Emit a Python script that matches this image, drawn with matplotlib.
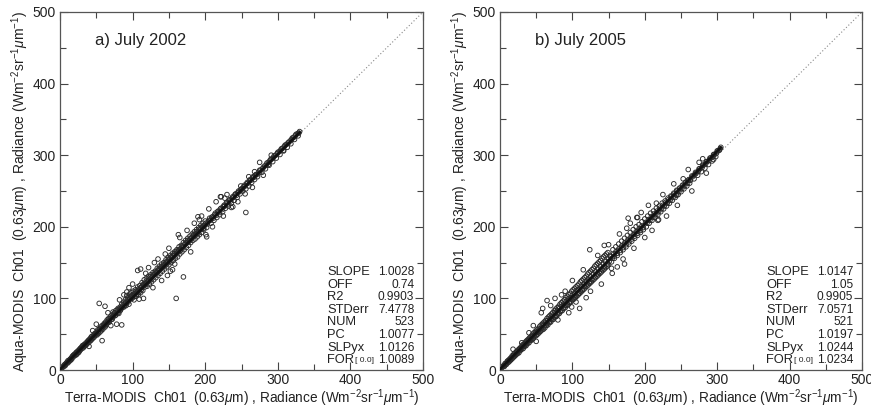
import matplotlib.pyplot as plt
from matplotlib.ticker import MultipleLocator

plt.rcParams['font.family'] = ['Liberation Sans', 'DejaVu Sans']
plt.rcParams['mathtext.fontset'] = 'custom'
plt.rcParams['mathtext.rm'] = 'Liberation Sans'
plt.rcParams['mathtext.it'] = 'Liberation Sans:italic'

# ---- panel a) July 2002 : points (Terra x, Aqua y) ----
terra_a = [3, 5, 6, 8, 9, 10, 12, 13, 14, 15, 16, 17, 18, 19, 20, 21, 22, 23, 24, 25, 26, 27, 28, 29, 30,
           31, 32, 33, 34, 35, 36, 37, 38, 39, 40, 41, 42, 43, 44, 45, 46, 47, 48, 49, 50, 51, 52, 53, 54, 55,
           56, 57, 58, 59, 60, 61, 62, 63, 64, 65, 66, 67, 68, 70, 71, 72, 73, 75, 76, 77, 79, 80, 81, 83, 84,
           85, 86, 88, 89, 90, 91, 92, 93, 94, 95, 96, 97, 98, 99, 100, 101, 102, 103, 104, 105, 106, 107, 108,
           109, 110, 111, 112, 113, 114, 115, 116, 117, 118, 119, 120, 121, 122, 123, 124, 125, 126, 127, 128,
           129, 130, 131, 132, 133, 134, 135, 136, 137, 138, 139, 140, 141, 142, 143, 144, 145, 146, 147, 148,
           149, 150, 151, 152, 153, 154, 155, 156, 157, 158, 159, 160, 161, 162, 163, 164, 165, 166, 167, 168,
           169, 170, 171, 172, 173, 174, 175, 176, 177, 178, 179, 180, 181, 182, 183, 184, 185, 186, 187, 188,
           189, 190, 191, 192, 193, 194, 195, 196, 197, 198, 199, 200, 202, 204, 206, 208, 210, 212, 214, 216,
           218, 220, 222, 224, 226, 228, 230, 232, 234, 236, 238, 240, 242, 244, 246, 248, 250, 252, 254, 256,
           258, 260, 262, 264, 266, 268, 270, 272, 275, 278, 280, 283, 285, 288, 290, 293, 295, 298, 300, 303,
           305, 308, 310, 313, 315, 318, 320, 323, 325, 328, 330]
aqua_a = [4, 5, 7, 8, 10, 11, 12, 14, 13, 16, 17, 19, 18, 21, 20, 22, 24, 22, 25, 27, 25, 29, 28, 31, 30,
          34, 31, 33, 36, 35, 38, 36, 40, 41, 39, 43, 44, 42, 47, 45, 48, 46, 51, 50, 52, 49, 56, 54, 57, 53,
          60, 58, 62, 57, 63, 65, 60, 67, 64, 70, 66, 72, 69, 75, 71, 77, 74, 80, 76, 83, 81, 86, 79, 88, 85,
          92, 88, 95, 90, 98, 93, 104, 96, 101, 92, 106, 99, 108, 100, 104, 110, 98, 107, 112, 103, 109, 116, 105,
          112, 118, 108, 115, 122, 111, 119, 126, 116, 121, 128, 117, 124, 131, 120, 127, 133, 123, 130, 136,
          126, 133, 138, 129, 136, 142, 132, 139, 145, 135, 142, 148, 138, 145, 150, 141, 148, 154, 144, 151,
          157, 147, 154, 160, 150, 157, 163, 153, 160, 165, 156, 163, 168, 158, 166, 172, 162, 169, 174, 165,
          172, 178, 168, 175, 181, 171, 178, 184, 174, 181, 187, 178, 184, 190, 181, 187, 193, 183, 190, 196,
          186, 193, 199, 189, 196, 202, 192, 199, 205, 196, 202, 208, 199, 207, 212, 205, 214, 209, 219, 213,
          222, 217, 226, 221, 230, 226, 234, 229, 238, 233, 242, 237, 246, 241, 250, 246, 253, 250, 258, 253,
          262, 257, 266, 262, 270, 266, 273, 270, 279, 276, 283, 281, 289, 286, 294, 291, 299, 296, 304, 301,
          309, 306, 314, 311, 318, 316, 324, 322, 329, 327, 333]
terra_a_band = [2, 4, 7, 7, 11, 11, 14, 16, 18, 20, 22, 23, 25, 27, 28, 30, 32, 33, 35, 36, 38, 40, 42, 43,
                45, 47, 48, 50, 52, 53, 55, 57, 58, 60, 62, 63, 65, 66, 68, 69, 71, 72, 74, 76, 77, 79, 80, 82,
                83, 85, 87, 88, 90, 91, 93, 94, 96, 97, 99, 100, 102, 103, 105, 106, 108, 109, 111, 112, 114,
                116, 117, 119, 120, 122, 124, 125, 127, 129, 131, 132, 134, 136, 137, 139, 141, 143, 144, 146,
                148, 150, 151, 153, 155, 157, 158, 160, 162, 164, 166, 168, 170, 172, 174, 176, 178, 180, 182,
                184, 186, 188, 190, 192, 194, 196, 198, 201, 203, 205, 207, 209, 211, 213, 215, 217, 219, 221,
                223, 225, 227, 229, 231, 233, 235, 237, 239, 241, 243, 245, 247, 249, 251, 253, 255, 257, 259,
                261, 263, 265, 267, 269, 271, 274, 276, 279, 282, 284, 287, 289, 292, 294, 297, 299, 302, 304,
                307, 309, 312, 314, 317, 319, 322, 324, 327, 329]
aqua_a_band = [3, 4, 6, 8, 10, 13, 15, 15, 20, 22, 21, 25, 24, 27, 30, 32, 33, 35, 34, 36, 38, 42, 41, 46,
               44, 49, 48, 50, 53, 51, 57, 55, 59, 61, 64, 62, 66, 68, 67, 72, 73, 71, 76, 79, 77, 84, 80, 85,
               83, 87, 91, 88, 94, 90, 99, 95, 100, 103, 104, 101, 106, 103, 110, 106, 113, 109, 115, 112, 119,
               118, 121, 120, 125, 124, 130, 126, 131, 133, 134, 137, 136, 141, 139, 144, 143, 147, 146, 151,
               150, 155, 152, 158, 157, 162, 160, 166, 164, 168, 167, 173, 172, 176, 177, 181, 180, 184, 185,
               189, 188, 193, 191, 197, 196, 200, 201, 205, 204, 209, 209, 213, 212, 217, 216, 221, 220, 225,
               224, 228, 229, 233, 232, 237, 236, 240, 241, 245, 244, 248, 249, 252, 253, 256, 257, 260, 261,
               264, 265, 268, 269, 272, 273, 276, 279, 281, 285, 286, 290, 292, 295, 297, 300, 302, 305, 307,
               310, 312, 315, 317, 320, 322, 325, 327, 330, 331]
terra_a_out = [160, 170, 54, 62, 58, 78, 85, 107, 111, 122, 163, 256, 236, 222, 190, 192, 201, 158, 148, 109,
               128, 92, 73, 50, 255, 221, 227, 238, 202, 198, 291, 287, 308, 268, 249, 95, 100, 88, 130, 135,
               140, 150, 155, 165, 175, 180, 185, 195, 205, 210, 215, 225, 230, 245, 260, 265, 275, 280, 66, 70,
               82, 45, 40, 115, 118, 145, 152]
aqua_a_out = [100, 130, 93, 89, 41, 64, 63, 139, 141, 143, 189, 220, 227, 242, 214, 210, 189, 148, 132, 99,
              115, 109, 81, 64, 246, 242, 240, 228, 186, 198, 300, 287, 307, 277, 257, 115, 120, 105, 150, 155,
              125, 170, 140, 185, 195, 165, 205, 215, 225, 200, 235, 215, 245, 235, 270, 255, 290, 272, 80, 62,
              98, 55, 33, 100, 135, 162, 138]

# ---- panel b) July 2005 ----
terra_b = [3, 5, 6, 8, 9, 10, 12, 13, 14, 15, 16, 17, 18, 19, 20, 21, 22, 23, 24, 25, 26, 27, 28, 29, 30,
           31, 32, 33, 34, 35, 36, 37, 38, 39, 40, 41, 42, 43, 44, 45, 46, 47, 48, 49, 50, 51, 52, 53, 54, 55,
           56, 57, 58, 59, 60, 61, 62, 63, 64, 65, 66, 67, 68, 69, 70, 71, 72, 73, 74, 75, 76, 77, 78, 79, 80,
           81, 82, 83, 84, 85, 86, 87, 88, 89, 90, 91, 92, 93, 94, 95, 96, 97, 98, 99, 100, 101, 102, 103, 104,
           105, 106, 107, 108, 109, 110, 111, 112, 113, 114, 115, 116, 117, 118, 119, 120, 121, 122, 123, 124,
           125, 126, 127, 128, 129, 130, 131, 132, 133, 134, 135, 136, 137, 138, 139, 140, 141, 142, 143, 144,
           145, 146, 147, 148, 149, 150, 152, 154, 156, 158, 160, 162, 164, 166, 168, 170, 172, 174, 176, 178,
           180, 182, 184, 186, 188, 190, 192, 194, 196, 198, 200, 202, 204, 206, 208, 210, 212, 214, 216, 218,
           220, 222, 224, 226, 228, 230, 232, 234, 236, 238, 240, 242, 244, 246, 248, 250, 252, 254, 256, 258,
           260, 262, 265, 268, 270, 273, 275, 278, 280, 283, 285, 288, 290, 293, 295, 298, 300, 303, 305]
aqua_b = [4, 6, 5, 9, 8, 12, 11, 15, 13, 17, 15, 20, 17, 22, 19, 24, 21, 26, 23, 28, 24, 30, 27, 32, 29,
          35, 30, 36, 33, 39, 34, 41, 37, 43, 38, 45, 41, 47, 42, 50, 44, 52, 47, 54, 48, 56, 50, 58, 52, 61,
          54, 63, 56, 65, 57, 67, 59, 69, 62, 72, 63, 74, 66, 76, 67, 78, 70, 80, 71, 83, 74, 85, 75, 87, 78,
          89, 79, 92, 82, 94, 83, 96, 86, 98, 87, 101, 90, 103, 91, 105, 94, 107, 95, 110, 98, 112, 99, 114, 101,
          116, 103, 118, 105, 120, 107, 123, 109, 125, 111, 127, 113, 129, 115, 131, 117, 134, 119, 136, 121,
          138, 123, 140, 125, 142, 127, 145, 129, 147, 131, 149, 133, 151, 135, 153, 137, 156, 139, 158, 141,
          160, 143, 162, 145, 164, 147, 160, 151, 168, 156, 172, 160, 176, 164, 180, 168, 184, 172, 188, 176,
          192, 180, 196, 184, 200, 188, 203, 192, 207, 196, 211, 200, 215, 205, 219, 209, 222, 213, 226, 217,
          229, 221, 233, 225, 236, 229, 240, 233, 243, 237, 247, 241, 251, 245, 254, 249, 258, 253, 262, 257,
          265, 261, 271, 267, 276, 272, 281, 277, 286, 282, 291, 287, 296, 292, 301, 298, 306, 307, 311]
terra_b_band = [2, 4, 7, 7, 11, 11, 14, 16, 18, 20, 22, 23, 25, 27, 28, 30, 32, 33, 35, 36, 38, 40, 42, 43,
                45, 47, 48, 50, 52, 53, 55, 57, 58, 60, 62, 63, 65, 66, 68, 69, 71, 72, 74, 76, 77, 79, 80, 82,
                83, 85, 87, 88, 90, 91, 93, 94, 96, 97, 99, 100, 102, 103, 105, 106, 108, 109, 111, 112, 114,
                116, 117, 119, 120, 122, 124, 125, 127, 129, 131, 132, 134, 136, 137, 139, 141, 143, 144, 146,
                148, 150, 151, 153, 155, 157, 158, 160, 162, 164, 166, 168, 170, 172, 174, 176, 178, 180, 182,
                184, 186, 188, 190, 192, 194, 196, 198, 201, 203, 205, 207, 209, 211, 213, 215, 217, 219, 221,
                223, 225, 227, 229, 231, 233, 235, 237, 239, 241, 243, 245, 247, 249, 251, 253, 255, 257, 259,
                261, 263, 266, 269, 271, 274, 276, 279, 281, 284, 286, 289, 291, 294, 296, 299, 301, 304]
aqua_b_band = [3, 5, 7, 9, 11, 13, 14, 17, 19, 21, 22, 25, 26, 28, 30, 31, 34, 33, 37, 36, 40, 41, 44, 43,
               47, 48, 50, 52, 54, 53, 57, 59, 58, 63, 62, 66, 65, 69, 68, 72, 71, 75, 74, 80, 76, 83, 80, 86,
               82, 89, 86, 92, 90, 95, 92, 99, 95, 101, 98, 105, 101, 107, 104, 111, 107, 113, 110, 117, 113,
               120, 117, 124, 120, 127, 123, 130, 127, 134, 130, 137, 134, 141, 137, 144, 141, 148, 144, 151,
               148, 155, 152, 158, 156, 162, 159, 165, 163, 169, 167, 173, 171, 177, 175, 181, 179, 185, 183,
               189, 187, 193, 191, 197, 195, 201, 199, 206, 205, 210, 209, 214, 213, 218, 217, 222, 221, 226,
               225, 230, 229, 234, 233, 238, 237, 242, 241, 246, 245, 250, 249, 254, 253, 258, 257, 262, 261,
               266, 265, 270, 273, 275, 278, 281, 283, 286, 288, 291, 293, 296, 298, 301, 303, 306, 309]
terra_b_out = [124, 144, 65, 57, 59, 46, 18, 76, 110, 99, 119, 154, 162, 172, 177, 190, 175, 218, 216, 280,
               295, 253, 189, 219, 244, 70, 85, 90, 100, 105, 115, 125, 135, 140, 150, 155, 165, 170, 180, 185,
               195, 200, 205, 210, 225, 230, 240, 245, 260, 265, 275, 285, 40, 30, 50, 80, 95]
aqua_b_out = [168, 174, 97, 80, 86, 62, 29, 100, 86, 88, 101, 142, 144, 148, 212, 213, 198, 209, 233, 295,
              294, 267, 213, 210, 244, 90, 105, 110, 125, 95, 140, 110, 160, 120, 175, 135, 190, 155, 205, 170,
              220, 185, 230, 195, 245, 215, 260, 230, 280, 250, 290, 275, 52, 38, 40, 70, 80]

# regression statistics printed in the panels
stat_names = ['SLOPE', 'OFF', 'R2', 'STDerr', 'NUM', 'PC', 'SLPyx', 'FOR']
stats_a = ['1.0028', '0.74', '0.9903', '7.4778', '523', '1.0077', '1.0126', '1.0089']
stats_b = ['1.0147', '1.05', '0.9905', '7.0571', '521', '1.0197', '1.0244', '1.0234']
fit_a = (1.0028, 0.74, 330)   # slope, offset, max x of data
fit_b = (1.0147, 1.05, 305)
titles = ['a) July 2002', 'b) July 2005']

xlabel = r'Terra-MODIS  Ch01  (0.63$\mathit{\mu}$m) , Radiance (Wm$^{-2}$sr$^{-1}$$\mathit{\mu}$m$^{-1}$)'
ylabel = r'Aqua-MODIS  Ch01  (0.63$\mathit{\mu}$m) , Radiance (Wm$^{-2}$sr$^{-1}$$\mathit{\mu}$m$^{-1}$)'

fig = plt.figure(figsize=(8.71, 4.09), dpi=100)
W, H = 871, 409
ax_a = fig.add_axes([60 / W, 39 / H, 363 / W, 358 / H])
ax_b = fig.add_axes([500 / W, 39 / H, 362 / W, 358 / H])

panels = [(ax_a, terra_a + terra_a_band + terra_a_out, aqua_a + aqua_a_band + aqua_a_out, stats_a, fit_a, titles[0]),
          (ax_b, terra_b + terra_b_band + terra_b_out, aqua_b + aqua_b_band + aqua_b_out, stats_b, fit_b, titles[1])]

dark = '#2a2a2a'
txt = '#222222'
for ax, xs, ys, stats, fit, title in panels:
    ax.plot([0, 500], [0, 500], color='#888888', linestyle=(0, (1, 2)), linewidth=0.8, zorder=1)
    ax.scatter(xs, ys, s=11, facecolors='none', edgecolors=dark, linewidths=0.65, zorder=2)
    slope, off, xmax = fit
    ax.plot([0, xmax], [off, slope * xmax + off], color='#111111', linewidth=1.9, zorder=3)

    ax.set_xlim(0, 500)
    ax.set_ylim(0, 500)
    ax.xaxis.set_major_locator(MultipleLocator(100))
    ax.yaxis.set_major_locator(MultipleLocator(100))
    ax.xaxis.set_minor_locator(MultipleLocator(50))
    ax.yaxis.set_minor_locator(MultipleLocator(50))
    ax.tick_params(which='both', direction='in', top=True, right=True, color='#444444', width=0.8)
    ax.tick_params(which='major', length=6, labelsize=10, pad=3, labelcolor=txt)
    ax.tick_params(axis='x', which='major', pad=2.5)
    ax.tick_params(which='minor', length=4)
    for sp in ax.spines.values():
        sp.set_color('#555555')
        sp.set_linewidth(0.9)

    ax.set_xlabel(xlabel, fontsize=9.8, color=txt, labelpad=0)
    ax.set_ylabel(ylabel, fontsize=10, color=txt, labelpad=1)

    ax.text(48, 460, title, fontsize=12, color=txt, va='center', ha='left')

    for i, (name, val) in enumerate(zip(stat_names, stats)):
        yy = 137 - i * 17.6
        t = ax.text(368, yy, name, fontsize=9.3, color=txt, va='center', ha='left')
        ax.text(488, yy, val, fontsize=8.6, color=txt, va='center', ha='right')
    # small "[ 0.0]" right after FOR
    ax.annotate('[ 0.0]', xy=(1, 0.5), xycoords=t, xytext=(0.5, 0), textcoords='offset points',
                fontsize=6, color=txt, va='center', ha='left')

fig.savefig('out.png', dpi=100)
